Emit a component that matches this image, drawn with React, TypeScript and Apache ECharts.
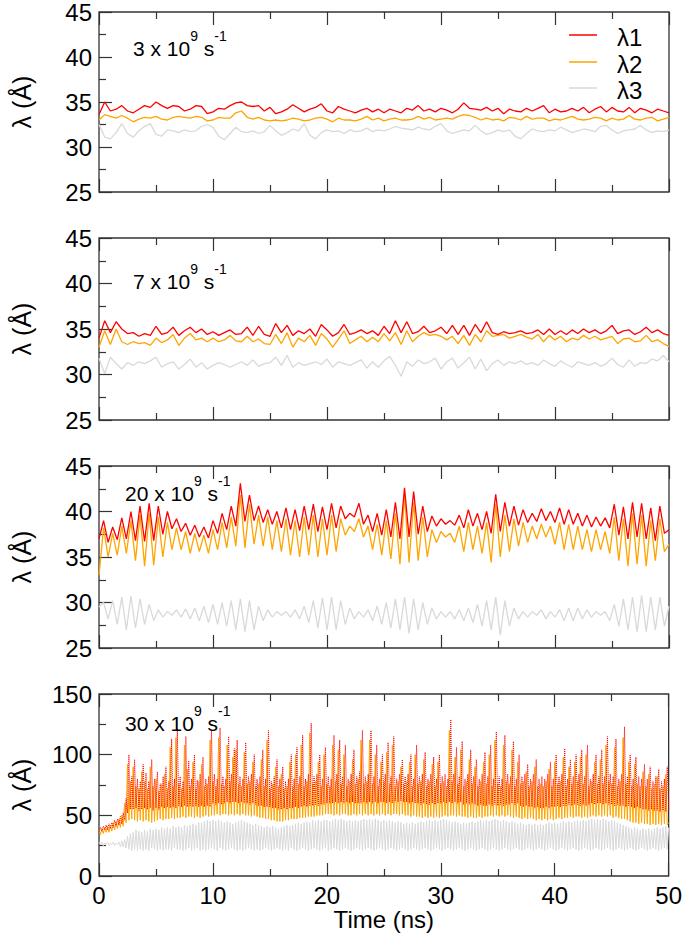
import React, { useEffect, useRef } from "react";
import * as echarts from "echarts";

// ---------- data ----------
const X_TICKS = [0, 10, 20, 30, 40, 50];
const RATE_LABELS = ["3", "7", "20", "30"];
const Y_MIN = [25, 25, 25, 0];
const Y_MAX = [45, 45, 45, 150];
const Y_STEP = [5, 5, 5, 50];
const TIME_STEP = [0.5, 0.5, 0.4, 0.125];
const SERIES_NAMES = ["λ1", "λ2", "λ3"];

// 3 x 10^9 s^-1
const P1_L1 = [
  33.6, 35.0, 34.0, 34.2, 34.6, 34.0, 33.8, 34.2, 34.6, 34.4,
  35.0, 34.6, 34.3, 34.6, 34.5, 34.0, 34.2, 34.6, 34.5, 33.7,
  33.9, 34.3, 34.2, 34.6, 34.9, 35.0, 34.6, 34.5, 34.6, 34.0,
  34.4, 33.7, 33.9, 34.2, 34.7, 34.3, 33.9, 34.2, 34.4, 34.8,
  34.0, 33.8, 34.5, 34.2, 34.0, 33.8, 34.1, 34.3, 33.9, 34.2,
  33.8, 34.2, 34.0, 33.8, 34.3, 34.1, 34.6, 34.0, 34.2, 33.9,
  34.3, 34.1, 33.8, 34.2, 34.9, 34.3, 34.2, 34.1, 34.4, 34.0,
  34.3, 33.7, 34.2, 34.0, 33.9, 34.3, 34.0, 34.3, 34.6, 33.8,
  34.2, 33.9, 34.0, 34.3, 34.0, 34.4, 33.8, 34.2, 34.5, 33.9,
  34.4, 34.0, 33.9, 34.4, 33.8, 34.3, 34.1, 33.8, 34.2, 34.0,
  33.8,
];
const P1_L2 = [
  33.0, 33.6, 33.4, 33.2, 33.5, 33.2, 32.8, 33.1, 33.3, 33.2,
  33.4, 33.1, 33.0, 33.3, 33.4, 33.3, 33.2, 33.4, 33.3, 32.9,
  33.0, 33.3, 33.2, 33.2, 33.8, 34.0, 33.3, 33.1, 33.3, 33.0,
  32.9, 33.0, 32.9, 33.0, 33.2, 33.1, 32.9, 33.0, 33.2, 33.3,
  33.1, 32.8, 33.2, 33.0, 33.0, 32.9, 33.1, 33.4, 33.0, 33.2,
  32.9, 33.1, 33.2, 33.0, 33.0, 33.1, 33.4, 33.1, 33.3, 33.0,
  33.1, 33.2, 33.1, 33.4, 33.6, 33.5, 33.3, 33.0, 33.2, 33.0,
  33.1, 32.9, 33.3, 33.2, 33.0, 33.4, 33.1, 33.2, 33.2, 32.9,
  33.1, 33.0, 33.2, 33.4, 33.1, 33.0, 33.1, 33.3, 33.2, 32.9,
  33.2, 33.0, 33.1, 33.5, 33.1, 33.0, 33.2, 33.3, 32.9, 33.1,
  33.3,
];
const P1_L3 = [
  32.5, 31.1, 30.9, 31.6, 32.6, 31.5, 31.1, 31.8, 32.3, 32.6,
  31.4, 31.2, 31.9, 31.8, 31.6, 31.9, 31.7, 31.8, 32.3, 32.5,
  32.2, 31.2, 30.8, 31.5, 32.2, 31.7, 31.6, 31.8, 31.5, 31.7,
  32.4, 31.8, 31.3, 31.6, 32.0, 31.8, 32.6, 31.3, 30.9, 31.6,
  31.9, 31.7, 31.8, 31.5, 31.9, 31.7, 31.8, 32.1, 31.7, 31.9,
  31.8, 32.0, 32.3, 32.1, 32.0, 31.9, 32.2, 32.0, 31.9, 32.3,
  32.6, 31.8, 31.5, 31.7, 31.9, 31.8, 32.4, 31.8, 31.4, 31.6,
  31.9, 31.7, 31.9, 31.2, 30.9, 31.5, 32.0, 31.8, 31.7, 31.9,
  31.8, 32.2, 31.9, 31.6, 31.8, 32.0, 31.9, 31.7, 32.3, 32.4,
  31.9, 31.5, 31.8, 31.9, 32.0, 32.4, 31.9, 31.6, 31.8, 31.7,
  31.9,
];

// 7 x 10^9 s^-1
const P2_L1 = [
  34.0, 35.9, 34.6, 35.8, 35.0, 34.5, 34.6, 34.2, 34.5, 34.3,
  35.3, 34.4, 34.6, 35.2, 34.3, 34.8, 35.2, 34.6, 35.0, 34.4,
  34.7, 34.3, 34.6, 34.9, 34.4, 34.5, 35.2, 34.3, 35.3, 34.4,
  34.2, 35.6, 34.6, 35.4, 34.3, 34.8, 34.5, 35.0, 34.2, 35.5,
  34.9, 34.2, 34.6, 35.5, 34.4, 34.6, 34.9, 34.5, 34.8, 34.3,
  35.3, 34.5, 35.9, 34.6, 35.8, 34.5, 34.7, 35.3, 34.6, 34.8,
  35.2, 34.5, 35.4, 34.4, 35.4, 34.3, 35.5, 34.6, 35.8, 34.6,
  34.4, 34.7, 34.5, 34.6, 34.8, 34.5, 34.6, 34.9, 34.4, 35.0,
  34.4, 34.8, 34.4, 34.9, 34.5, 35.0, 34.6, 34.9, 34.5, 34.8,
  35.4, 34.5, 34.8, 34.9, 34.4, 34.7, 35.2, 34.6, 34.9, 34.5,
  34.3,
];
const P2_L2 = [
  33.0, 34.8, 33.3, 35.0, 33.6, 33.3, 33.6, 33.4, 33.5, 33.2,
  34.0, 33.5, 33.8, 34.4, 33.2, 34.0, 34.5, 33.8, 34.0, 33.6,
  34.0, 33.6, 33.8, 34.3, 33.7, 33.6, 34.2, 33.6, 33.9, 33.4,
  33.3, 34.4, 33.4, 34.6, 33.0, 34.0, 33.6, 34.3, 33.2, 34.5,
  33.9, 33.0, 33.9, 34.8, 33.4, 33.8, 34.2, 33.6, 34.1, 33.6,
  34.5, 33.7, 34.6, 33.3, 34.8, 33.6, 34.2, 34.6, 34.3, 34.4,
  34.2, 33.8, 34.2, 33.4, 34.3, 33.2, 34.4, 33.6, 34.8, 34.2,
  34.3, 34.4, 34.0, 34.2, 34.4, 34.1, 33.9, 34.4, 33.6, 34.3,
  33.8, 34.2, 33.6, 34.0, 33.8, 34.3, 33.9, 34.2, 33.8, 34.0,
  34.2, 33.4, 33.9, 34.0, 33.6, 33.7, 34.3, 33.6, 33.8, 33.4,
  33.1,
];
const P2_L3 = [
  31.8, 30.1, 31.9, 31.2, 30.6, 31.3, 31.0, 31.4, 31.2, 31.5,
  31.9, 30.8, 31.2, 31.4, 30.6, 31.1, 31.7, 30.8, 31.3, 30.6,
  31.0, 31.3, 31.1, 30.8, 31.1, 31.4, 31.0, 31.6, 30.9, 31.2,
  31.3, 31.9, 31.0, 32.1, 30.8, 31.3, 31.0, 31.2, 31.4, 31.1,
  31.7, 30.8, 31.4, 31.2, 31.0, 31.3, 31.6, 30.7, 31.4, 30.8,
  31.5, 32.0, 31.0, 29.8, 31.4, 30.9, 31.6, 31.2, 31.4, 31.8,
  30.6, 31.4, 31.8, 30.7, 31.3, 31.9, 30.6, 31.7, 30.4, 31.2,
  31.6, 31.0, 31.4, 31.2, 31.5, 31.1, 31.3, 31.0, 31.6, 31.2,
  30.9, 31.5, 31.1, 30.8, 31.4, 31.2, 31.0, 31.3, 30.9, 31.2,
  31.8, 31.1, 30.8, 31.6, 30.9, 31.3, 31.2, 31.7, 31.5, 32.1,
  31.4,
];

// 20 x 10^9 s^-1
const P3_L1 = [
  37.0, 39.0, 36.6, 38.3, 36.9, 39.3, 37.0, 40.0, 36.8, 40.6,
  36.7, 40.9, 36.8, 40.6, 37.5, 40.0, 38.1, 39.2, 37.8, 38.7,
  37.4, 38.5, 37.2, 38.3, 37.1, 39.0, 37.6, 39.8, 38.0, 40.6,
  38.4, 43.1, 38.9, 41.8, 39.0, 40.6, 38.8, 40.2, 38.6, 40.0,
  38.2, 40.4, 38.0, 40.2, 37.9, 40.6, 38.0, 40.8, 37.8, 40.5,
  38.0, 40.9, 38.2, 40.6, 39.2, 39.8, 39.4, 40.9, 38.6, 39.6,
  37.8, 39.8, 37.4, 40.2, 37.2, 41.0, 37.0, 42.6, 37.2, 42.2,
  37.5, 40.6, 37.8, 39.5, 38.4, 39.2, 38.6, 39.0, 38.5, 39.6,
  38.2, 40.2, 38.4, 39.8, 38.0, 40.0, 37.6, 41.9, 37.8, 41.0,
  38.4, 40.6, 38.5, 40.2, 38.8, 39.8, 38.9, 40.3, 39.0, 40.0,
  38.8, 40.4, 38.6, 40.2, 38.6, 39.8, 38.4, 39.6, 38.3, 39.4,
  38.4, 39.3, 38.2, 40.8, 37.4, 40.5, 37.0, 41.0, 37.2, 40.9,
  37.0, 40.4, 36.8, 40.6, 37.6, 38.0,
];
const P3_L2 = [
  33.0, 38.2, 35.0, 37.6, 35.2, 38.4, 35.4, 39.0, 34.6, 39.6,
  34.0, 39.8, 34.1, 39.4, 35.0, 38.8, 35.8, 38.2, 35.8, 37.8,
  35.4, 37.6, 35.6, 37.4, 35.4, 38.0, 35.8, 38.8, 36.0, 39.4,
  36.2, 41.8, 36.0, 40.8, 36.4, 39.6, 36.2, 39.4, 35.8, 39.0,
  35.6, 39.2, 35.2, 39.0, 35.0, 39.4, 35.2, 39.6, 35.0, 39.2,
  35.2, 39.6, 35.6, 39.2, 37.4, 38.4, 37.8, 39.2, 37.2, 38.4,
  35.8, 38.6, 35.2, 39.0, 34.8, 39.8, 34.2, 41.8, 34.4, 41.0,
  34.6, 39.4, 35.0, 38.0, 36.6, 37.8, 37.2, 37.6, 36.6, 38.4,
  35.6, 38.8, 35.8, 38.4, 35.4, 38.8, 34.4, 40.8, 35.0, 39.6,
  35.6, 39.2, 36.2, 38.8, 36.6, 38.4, 37.0, 38.6, 37.2, 38.4,
  36.4, 38.8, 35.8, 38.6, 35.8, 38.4, 35.8, 38.0, 35.6, 38.0,
  35.8, 37.8, 35.4, 39.4, 34.6, 39.2, 34.0, 39.8, 34.2, 39.6,
  34.0, 39.0, 34.6, 39.2, 35.6, 36.4,
];
const P3_L3 = [
  29.5, 30.0, 28.2, 30.2, 27.6, 30.6, 27.0, 30.7, 27.2, 30.4,
  27.6, 29.8, 28.0, 29.2, 28.4, 29.0, 28.6, 29.2, 28.4, 29.3,
  28.2, 29.4, 28.0, 29.6, 27.8, 29.8, 27.6, 30.0, 27.4, 30.2,
  27.0, 30.4, 26.8, 30.2, 27.0, 29.6, 28.0, 29.2, 28.4, 29.0,
  28.6, 29.0, 28.4, 29.2, 28.2, 29.6, 27.8, 30.2, 27.2, 30.5,
  27.0, 30.6, 27.0, 30.2, 27.6, 29.4, 28.2, 29.0, 28.4, 29.2,
  28.0, 29.6, 27.6, 30.0, 27.2, 30.4, 27.0, 30.6, 26.6, 30.4,
  27.0, 30.0, 27.6, 29.4, 28.2, 29.0, 28.4, 29.0, 28.2, 29.2,
  28.0, 29.4, 27.8, 29.8, 27.4, 30.2, 27.0, 30.6, 26.4, 30.2,
  27.4, 29.4, 28.2, 29.0, 28.4, 29.0, 28.6, 29.2, 28.2, 29.0,
  28.4, 29.2, 28.0, 29.4, 28.0, 29.4, 28.2, 29.2, 28.4, 29.0,
  28.6, 29.0, 28.0, 29.8, 27.4, 30.4, 27.0, 30.6, 26.8, 30.8,
  26.8, 30.6, 27.0, 30.6, 27.4, 29.6,
];

// 30 x 10^9 s^-1 (one row per ns, 8 samples each)
const P4_L1 = [
  36, 40, 37, 41, 38, 42, 38, 43,
  39, 44, 40, 46, 41, 47, 42, 49,
  43, 52, 46, 64, 52, 100, 55, 82,
  55, 96, 56, 80, 54, 78, 55, 92,
  56, 85, 55, 78, 56, 96, 54, 80,
  56, 86, 55, 76, 57, 82, 56, 90,
  57, 78, 56, 113, 57, 80, 56, 121,
  58, 82, 57, 78, 58, 115, 57, 95,
  58, 80, 57, 100, 58, 79, 57, 84,
  58, 98, 57, 80, 58, 82, 57, 120,
  60, 84, 59, 80, 60, 122, 59, 82,
  60, 80, 61, 115, 60, 84, 61, 105,
  61, 112, 60, 82, 61, 80, 60, 110,
  60, 82, 59, 84, 60, 100, 59, 80,
  58, 82, 58, 104, 57, 80, 57, 120,
  57, 78, 56, 82, 56, 96, 55, 80,
  55, 90, 56, 78, 55, 80, 56, 100,
  56, 80, 57, 106, 56, 82, 57, 116,
  58, 80, 57, 84, 58, 126, 58, 82,
  59, 84, 58, 100, 59, 80, 59, 106,
  60, 82, 60, 80, 60, 116, 61, 84,
  60, 112, 61, 82, 60, 108, 61, 80,
  60, 84, 61, 104, 60, 82, 60, 86,
  60, 120, 61, 82, 60, 84, 61, 120,
  60, 82, 61, 108, 60, 80, 61, 100,
  61, 84, 60, 110, 61, 82, 60, 115,
  62, 80, 61, 84, 62, 96, 61, 82,
  61, 84, 60, 100, 61, 80, 60, 108,
  60, 82, 59, 84, 60, 102, 59, 80,
  59, 84, 60, 98, 59, 80, 60, 100,
  60, 82, 61, 84, 60, 80, 61, 129,
  60, 84, 61, 106, 60, 82, 61, 111,
  59, 80, 60, 84, 59, 104, 60, 82,
  59, 96, 58, 80, 59, 84, 58, 102,
  58, 82, 59, 108, 58, 80, 59, 119,
  58, 82, 59, 80, 58, 116, 59, 84,
  59, 82, 60, 111, 59, 80, 60, 100,
  58, 82, 57, 84, 58, 92, 57, 80,
  57, 84, 56, 96, 57, 80, 56, 82,
  56, 80, 57, 84, 56, 94, 57, 80,
  57, 100, 58, 82, 57, 84, 58, 105,
  58, 80, 59, 96, 58, 82, 59, 100,
  59, 84, 58, 104, 59, 82, 58, 108,
  59, 80, 60, 84, 59, 100, 60, 82,
  60, 104, 59, 82, 60, 115, 59, 84,
  59, 82, 58, 113, 59, 80, 58, 84,
  58, 123, 57, 82, 58, 100, 57, 80,
  56, 98, 57, 82, 56, 80, 55, 92,
  55, 80, 54, 90, 55, 78, 54, 82,
  54, 88, 53, 78, 54, 80, 53, 90,
  55,
];
const P4_L2 = [
  38, 34, 39, 35, 40, 36, 41, 36,
  42, 37, 44, 38, 45, 39, 47, 40,
  50, 41, 60, 44, 92, 46, 78, 47,
  90, 46, 74, 45, 72, 46, 86, 45,
  78, 46, 72, 45, 90, 44, 74, 45,
  80, 46, 70, 47, 76, 46, 84, 47,
  72, 47, 106, 48, 74, 47, 114, 48,
  76, 48, 72, 49, 108, 48, 88, 49,
  74, 49, 94, 48, 72, 49, 78, 48,
  92, 49, 74, 50, 76, 49, 112, 50,
  78, 50, 74, 51, 114, 50, 76, 51,
  74, 51, 108, 50, 78, 51, 98, 50,
  104, 51, 76, 50, 74, 51, 102, 50,
  76, 50, 78, 49, 94, 50, 74, 49,
  76, 48, 96, 48, 74, 47, 112, 47,
  72, 46, 76, 46, 90, 45, 74, 45,
  84, 45, 72, 46, 74, 46, 94, 47,
  74, 47, 100, 47, 76, 48, 108, 48,
  74, 48, 78, 49, 118, 49, 76, 49,
  78, 50, 94, 50, 74, 50, 100, 51,
  76, 51, 74, 51, 108, 50, 78, 51,
  104, 50, 76, 51, 100, 51, 74, 50,
  78, 50, 96, 51, 76, 50, 80, 51,
  112, 50, 76, 51, 78, 50, 112, 51,
  76, 50, 100, 51, 74, 50, 94, 51,
  78, 50, 102, 51, 76, 50, 108, 51,
  74, 51, 78, 50, 90, 51, 76, 50,
  78, 50, 94, 49, 74, 50, 100, 49,
  76, 49, 78, 48, 96, 49, 74, 48,
  78, 49, 92, 48, 74, 49, 94, 48,
  76, 49, 78, 50, 74, 49, 120, 50,
  78, 50, 98, 49, 76, 50, 104, 49,
  74, 49, 78, 48, 96, 49, 76, 48,
  90, 48, 74, 49, 78, 48, 94, 49,
  76, 49, 100, 50, 74, 49, 112, 50,
  76, 49, 74, 50, 108, 49, 78, 50,
  76, 49, 104, 48, 74, 49, 94, 48,
  76, 47, 78, 48, 86, 47, 74, 48,
  78, 47, 90, 46, 74, 47, 76, 46,
  74, 47, 78, 46, 88, 47, 74, 46,
  94, 47, 76, 48, 78, 47, 98, 48,
  74, 48, 90, 49, 76, 48, 94, 49,
  78, 49, 98, 48, 76, 49, 100, 48,
  74, 49, 78, 50, 94, 49, 76, 50,
  96, 49, 76, 50, 108, 49, 78, 50,
  76, 48, 106, 49, 74, 48, 78, 47,
  114, 47, 76, 46, 94, 45, 74, 44,
  92, 44, 76, 43, 74, 44, 86, 43,
  74, 43, 84, 42, 72, 43, 76, 42,
  82, 43, 72, 42, 74, 43, 84, 42,
  44,
];
const P4_L3 = [
  28, 26, 28, 25, 27, 26, 28, 25,
  27, 26, 28, 25, 27, 26, 28, 24,
  29, 24, 30, 23, 33, 22, 35, 21,
  36, 22, 38, 21, 37, 22, 36, 21,
  38, 22, 37, 21, 39, 23, 38, 22,
  39, 21, 38, 22, 40, 21, 39, 22,
  40, 22, 39, 21, 41, 23, 40, 22,
  41, 22, 40, 21, 42, 22, 41, 23,
  42, 21, 43, 22, 42, 23, 44, 21,
  44, 22, 45, 21, 46, 22, 45, 23,
  46, 22, 45, 21, 46, 23, 45, 22,
  44, 21, 45, 22, 44, 23, 43, 22,
  44, 21, 45, 22, 46, 21, 45, 22,
  44, 23, 43, 22, 42, 21, 43, 22,
  42, 21, 41, 22, 40, 23, 41, 22,
  40, 21, 41, 22, 40, 23, 39, 22,
  40, 21, 41, 22, 42, 21, 41, 23,
  42, 22, 43, 21, 44, 22, 43, 23,
  44, 22, 45, 21, 44, 22, 46, 23,
  45, 22, 46, 21, 45, 22, 46, 23,
  46, 21, 45, 22, 46, 23, 47, 22,
  46, 21, 47, 22, 46, 23, 45, 22,
  46, 21, 45, 22, 46, 23, 45, 22,
  46, 21, 47, 22, 46, 23, 47, 22,
  46, 21, 47, 22, 46, 23, 45, 22,
  46, 21, 45, 22, 46, 23, 45, 22,
  44, 21, 45, 22, 44, 23, 43, 22,
  44, 21, 43, 22, 44, 23, 43, 22,
  44, 21, 45, 22, 44, 23, 45, 22,
  46, 21, 45, 22, 46, 23, 45, 22,
  46, 21, 47, 22, 46, 23, 45, 22,
  44, 21, 45, 22, 44, 23, 43, 22,
  44, 21, 43, 22, 44, 23, 45, 22,
  44, 21, 45, 22, 46, 23, 45, 22,
  46, 21, 45, 22, 46, 23, 47, 22,
  46, 21, 45, 22, 46, 23, 45, 22,
  44, 21, 45, 22, 44, 23, 43, 22,
  44, 21, 43, 22, 42, 23, 43, 22,
  42, 21, 43, 22, 42, 23, 43, 22,
  42, 21, 43, 22, 44, 23, 43, 22,
  44, 21, 43, 22, 44, 23, 45, 22,
  44, 21, 45, 22, 44, 23, 45, 22,
  46, 21, 45, 22, 46, 23, 45, 22,
  46, 21, 47, 22, 46, 23, 47, 22,
  46, 21, 47, 22, 46, 23, 45, 22,
  46, 21, 45, 22, 44, 23, 43, 22,
  42, 21, 41, 22, 40, 23, 39, 22,
  40, 21, 39, 22, 38, 23, 39, 22,
  38, 21, 39, 22, 38, 23, 39, 22,
  40, 21, 39, 22, 40, 23, 41, 22,
  40,
];

const PANEL_DATA = [
  [P1_L1, P1_L2, P1_L3],
  [P2_L1, P2_L2, P2_L3],
  [P3_L1, P3_L2, P3_L3],
  [P4_L1, P4_L2, P4_L3],
];

// ---------- styling ----------
const FONT = "'Liberation Sans', Arial, Helvetica, sans-serif";
const COLORS = ["#ff0000", "#ffa500", "#d9d9d9"];
const AXIS_COLOR = "#333333";
const GRID_TOPS = [10, 238, 466, 694];
const GRID_H = 182;
const GRID_LEFT = 99;
const GRID_RIGHT = 16;
const ANNOT_POS = [
  { x: 133, y: 45.5 },
  { x: 133, y: 279 },
  { x: 125, y: 490.5 },
  { x: 125, y: 720.5 },
];

function toPairs(values: number[], step: number) {
  return values.map((v, i) => [Math.round(i * step * 1000) / 1000, v]);
}

function buildOption() {
  const grid: any[] = [];
  const xAxis: any[] = [];
  const yAxis: any[] = [];
  const series: any[] = [];
  const graphic: any[] = [];

  const tickStyle = { color: AXIS_COLOR, width: 1.2 };

  GRID_TOPS.forEach((top, k) => {
    grid.push({
      left: GRID_LEFT,
      right: GRID_RIGHT,
      top,
      height: GRID_H,
      show: true,
      borderColor: AXIS_COLOR,
      borderWidth: 1.3,
      backgroundColor: "transparent",
    });
    const isLast = k === GRID_TOPS.length - 1;
    const baseX = {
      gridIndex: k,
      type: "value",
      min: X_TICKS[0],
      max: X_TICKS[X_TICKS.length - 1],
      interval: X_TICKS[1] - X_TICKS[0],
      axisLine: { show: false },
      axisTick: { show: true, inside: true, length: 13, lineStyle: tickStyle },
      minorTick: { show: true, splitNumber: 2, length: 7, lineStyle: tickStyle },
      splitLine: { show: false },
      minorSplitLine: { show: false },
    };
    xAxis.push({
      ...baseX,
      position: "bottom",
      axisLabel: {
        show: isLast,
        fontSize: 24,
        color: "#000",
        fontFamily: FONT,
        margin: 7,
      },
      name: isLast ? "Time (ns)" : "",
      nameLocation: "middle",
      nameGap: 30,
      nameTextStyle: { fontSize: 24, color: "#000", fontFamily: FONT },
    });
    xAxis.push({
      ...baseX,
      position: "top",
      axisLabel: { show: false },
    });
    yAxis.push({
      gridIndex: k,
      type: "value",
      min: Y_MIN[k],
      max: Y_MAX[k],
      interval: Y_STEP[k],
      axisLine: { show: false },
      axisTick: { show: true, inside: true, length: 13, lineStyle: tickStyle },
      minorTick: { show: true, splitNumber: 2, length: 7, lineStyle: tickStyle },
      splitLine: { show: false },
      minorSplitLine: { show: false },
      axisLabel: { fontSize: 24, color: "#000", fontFamily: FONT, margin: 7 },
      name: "λ (Å)",
      nameLocation: "middle",
      nameGap: 65,
      nameRotate: 90,
      nameTextStyle: { fontSize: 25, color: "#000", fontFamily: FONT },
    });

    const data = PANEL_DATA[k];
    // draw λ3 first, then λ2, then λ1 on top
    [2, 1, 0].forEach((s) => {
      const dotted = isLast && s === 0;
      series.push({
        type: "line",
        name: SERIES_NAMES[s],
        xAxisIndex: k * 2,
        yAxisIndex: k,
        data: toPairs(data[s], TIME_STEP[k]),
        showSymbol: false,
        symbol: "none",
        lineStyle: {
          color: COLORS[s],
          width: isLast ? 1 : 1.3,
          type: dotted ? "dotted" : "solid",
        },
        z: 3 + (2 - s),
        silent: true,
      });
    });

    const a = ANNOT_POS[k];
    graphic.push({
      type: "text",
      x: a.x,
      y: a.y - 17,
      z: 100,
      style: {
        text: `{m|${RATE_LABELS[k]} x 10}{s|9}{m| s}{s|-1}`,
        verticalAlign: "top",
        align: "left",
        rich: {
          m: { fontSize: 21, fontFamily: FONT, fill: "#000", lineHeight: 30, verticalAlign: "bottom" },
          s: { fontSize: 14, fontFamily: FONT, fill: "#000", lineHeight: 8, verticalAlign: "top" },
        },
      },
    });
  });

  // legend (panel 1, top-right)
  const LEG_Y = [35, 62, 88];
  SERIES_NAMES.forEach((nm, i) => {
    graphic.push({
      type: "line",
      shape: { x1: 569, y1: LEG_Y[i], x2: 597, y2: LEG_Y[i] },
      style: { stroke: COLORS[i], lineWidth: 1.5 },
      z: 100,
    });
    graphic.push({
      type: "text",
      x: 617,
      y: LEG_Y[i] + 2,
      z: 100,
      style: {
        text: nm,
        fontSize: 24,
        fontFamily: FONT,
        fill: "#000",
        verticalAlign: "middle",
        align: "left",
      },
    });
  });

  return {
    animation: false,
    backgroundColor: "#ffffff",
    grid,
    xAxis,
    yAxis,
    series,
    graphic,
  };
}

export default function App() {
  const ref = useRef<HTMLDivElement | null>(null);
  useEffect(() => {
    if (!ref.current) return;
    const chart = echarts.init(ref.current, undefined, { renderer: "svg" });
    chart.setOption(buildOption() as any);
    return () => chart.dispose();
  }, []);
  return (
    <div
      ref={ref}
      style={{ position: "absolute", left: 0, top: 0, width: 685, height: 939 }}
    />
  );
}
